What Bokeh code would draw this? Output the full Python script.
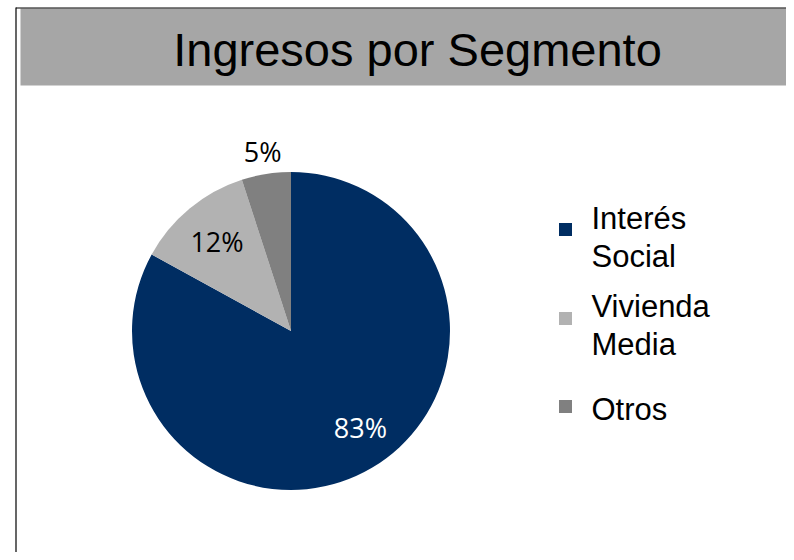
import math
from bokeh.plotting import figure
from bokeh.models import Range1d, ColumnDataSource
from bokeh.core.properties import value
from bokeh.embed import file_html
from bokeh.resources import INLINE

# ---- data ----
title = "Ingresos por Segmento"
categories = ["Interés Social", "Vivienda Media", "Otros"]
shares = [83, 12, 5]
labels = ["83%", "12%", "5%"]

# ---- style ----
slice_colors = ["#002D62", "#B2B2B2", "#808080"]
label_colors = ["white", "black", "black"]
label_radius = [0.75, 0.73, 1.14]
label_turn_deg = [5, 0, 0]   # counter-clockwise nudge of label placement

W, H = 786, 552


def X(px):  # picture x -> data x
    return px


def Y(py):  # picture y -> data y
    return H - py


p = figure(width=W, height=H, output_backend="svg", toolbar_location=None,
           x_range=Range1d(0, W), y_range=Range1d(0, H), min_border=0,
           background_fill_color="white", border_fill_color="white")
p.axis.visible = False
p.grid.visible = False
p.outline_line_color = None

# frame and title band
p.quad(left=[X(20)], right=[W], top=[Y(8)], bottom=[Y(85)],
       fill_color="#A6A6A6", line_color=None)
p.segment(x0=[X(15.5)], y0=[Y(7)], x1=[X(15.5)], y1=[0], line_color="black", line_width=1.2)
p.segment(x0=[X(15.5)], y0=[Y(7.5)], x1=[W], y1=[Y(7.5)], line_color="black", line_width=1.2)
p.text(x=[X(417)], y=[Y(48.5)], text=[title], text_align="center", text_baseline="middle",
       text_font=value("Liberation Sans"), text_font_size="47px", text_color="black")

# pie
cx, cy, r = X(290.5), Y(330.5), 159
total = sum(shares)
starts, ends, lx, ly = [], [], [], []
acc = 0
for i, s in enumerate(shares):
    a0 = math.pi / 2 - 2 * math.pi * acc / total
    a1 = math.pi / 2 - 2 * math.pi * (acc + s) / total
    mid = (a0 + a1) / 2 + math.radians(label_turn_deg[i])
    starts.append(a0)
    ends.append(a1)
    lx.append(cx + r * label_radius[i] * math.cos(mid))
    ly.append(cy + r * label_radius[i] * math.sin(mid))
    acc += s

src = ColumnDataSource(dict(start=starts, end=ends, color=slice_colors,
                            lx=lx, ly=ly, label=labels, lcolor=label_colors))
p.wedge(x=cx, y=cy, radius=r, start_angle="start", end_angle="end", direction="clock",
        fill_color="color", line_color=None, source=src)
p.text(x="lx", y="ly", text="label", text_color="lcolor", text_align="center",
       text_baseline="middle", text_font=value("Open Sans"), text_font_size="27px", source=src)

# legend
marker_py = [229, 318, 406]
text_shift = [-11, -12, 3]
line_gap = 37.5
tx, ty, tt = [], [], []
for i, c in enumerate(categories):
    words = c.split(" ")
    for k, w in enumerate(words):
        tx.append(X(591))
        ty.append(Y(marker_py[i] + text_shift[i] + k * line_gap))
        tt.append(w)
p.scatter(x=[X(565)] * len(categories), y=[Y(v) for v in marker_py], marker="square", size=13,
          fill_color=slice_colors, line_color=None)
p.text(x=tx, y=ty, text=tt, text_align="left", text_baseline="middle",
       text_font=value("Liberation Sans"), text_font_size="31px", text_color="black")

open("out.html", "w").write(file_html(p, INLINE))
